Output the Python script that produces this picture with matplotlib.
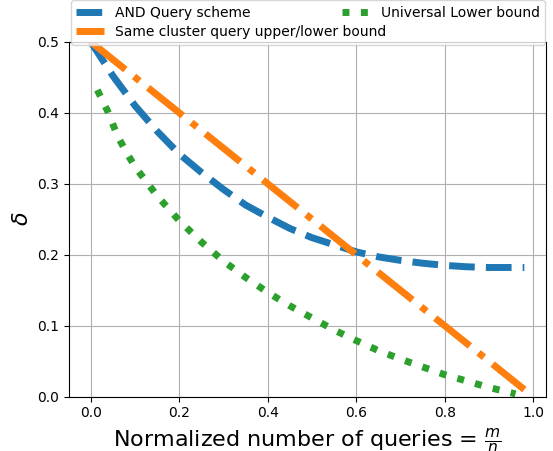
import matplotlib
matplotlib.use("Agg")
import matplotlib.pyplot as plt

# values
and_x = [0.0, 0.05, 0.1, 0.15, 0.2, 0.25, 0.3, 0.35, 0.4, 0.45, 0.5, 0.55,
         0.6, 0.65, 0.7, 0.75, 0.8, 0.85, 0.9, 0.98]
and_y = [0.5, 0.452, 0.41, 0.374, 0.342, 0.316, 0.292, 0.27, 0.253, 0.237, 0.224, 0.214,
         0.204, 0.197, 0.192, 0.188, 0.185, 0.183, 0.182, 0.182]

same_x = [0.0, 0.98]
same_y = [0.5, 0.01]

low_x = [0.015, 0.04, 0.06, 0.08, 0.1, 0.15, 0.2, 0.25, 0.3, 0.35, 0.4, 0.45,
         0.5, 0.55, 0.6, 0.65, 0.7, 0.75, 0.8, 0.85, 0.9, 0.96]
low_y = [0.432, 0.40, 0.368, 0.345, 0.324, 0.283, 0.248, 0.218, 0.191, 0.168, 0.147, 0.128,
         0.111, 0.094, 0.079, 0.065, 0.053, 0.042, 0.031, 0.022, 0.013, 0.004]

fig = plt.figure(figsize=(5.53, 4.51), dpi=100)
ax = fig.add_axes([0.1248, 0.1204, 0.8626, 0.7871])

ax.plot(and_x, and_y, '--', lw=5, color='tab:blue', label='AND Query scheme')
ax.plot(same_x, same_y, '-.', lw=5, color='tab:orange',
        label='Same cluster query upper/lower bound')
ax.plot(low_x, low_y, ':', lw=5, color='tab:green', label='Universal Lower bound')

ax.set_ylim(0, 0.5)
ax.grid(True)
ax.set_xlabel(r'Normalized number of queries = $\frac{m}{n}$', fontsize=16)
ax.set_ylabel(r'$\delta$', fontsize=16)

ax.legend(loc='lower left', bbox_to_anchor=(0.004, 0.991, 0.994, 0.1), ncol=2,
          mode='expand', borderaxespad=0, labelspacing=0.4, fontsize=10)

fig.savefig('out.png', dpi=100)
